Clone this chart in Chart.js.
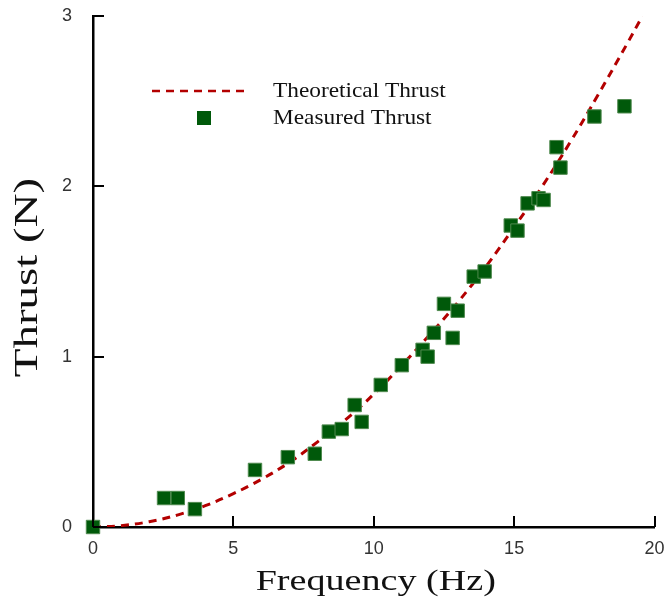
<!DOCTYPE html>
<html>
<head>
<meta charset="utf-8">
<script src="https://cdn.jsdelivr.net/npm/chart.js@4"></script>
<style>
  html, body { margin: 0; padding: 0; background: #fff; }
  #wrap { width: 665px; height: 599px; }
</style>
</head>
<body>
<div id="wrap"><canvas id="thrustChart" width="665" height="599"></canvas></div>
<script>
// measured points (Hz, N)
const measuredFreq = [0, 2.53, 3.02, 3.63, 5.77, 6.94, 7.9, 8.4, 8.86, 9.32, 9.57, 10.25, 11.0, 11.74, 11.92, 12.14, 12.5, 12.81, 12.99, 13.56, 13.95, 14.88, 15.12, 15.48, 15.87, 16.05, 16.51, 16.65, 17.86, 18.93];
const measuredThrust = [0, 0.17, 0.17, 0.105, 0.335, 0.41, 0.43, 0.56, 0.575, 0.716, 0.617, 0.834, 0.95, 1.04, 1.0, 1.14, 1.31, 1.11, 1.27, 1.47, 1.50, 1.77, 1.74, 1.90, 1.93, 1.92, 2.23, 2.11, 2.41, 2.47];

// theoretical curve
const theoryFreq = [0, 1, 2, 3, 4, 5, 6, 7, 8, 9, 10, 11, 12, 13, 14, 15, 16, 17, 18, 19, 19.57];
const theoryThrust = [0, 0.008, 0.031, 0.07, 0.125, 0.196, 0.28, 0.38, 0.5, 0.63, 0.78, 0.95, 1.13, 1.32, 1.53, 1.76, 2.0, 2.26, 2.54, 2.83, 3.0];

const xTicks = [0, 5, 10, 15, 20];
const yTicks = [0, 1, 2, 3];

const lineRed = "#b30000";
const markerGreen = "#00590a";

// the original figure's serif text is stretched along its run
function stretchTitle(scale, sx, sy, dx, dy) {
    if (scale._stretched) return;
    const orig = scale.drawTitle.bind(scale);
    scale.drawTitle = function () {
        const c = this.ctx;
        const cx = (this.left + this.right) / 2, cy = (this.top + this.bottom) / 2;
        c.save();
        c.translate(cx + dx, cy + dy);
        c.scale(sx, sy);
        c.translate(-cx, -cy);
        orig();
        c.restore();
    };
    scale._stretched = true;
}

// inward tick marks + legend drawn on the canvas
const extrasPlugin = {
    id: "extras",
    beforeDraw(chart) {
        stretchTitle(chart.scales.x, 1.27, 1, 2, 3);
        stretchTitle(chart.scales.y, 1, 1.38, 0, 6);
    },
    afterDraw(chart) {
        const ctx = chart.ctx;
        const xs = chart.scales.x, ys = chart.scales.y;
        const area = chart.chartArea;
        ctx.save();
        ctx.strokeStyle = "#000";
        ctx.lineWidth = 2;
        xTicks.forEach(v => {
            const px = Math.round(xs.getPixelForValue(v));
            ctx.beginPath();
            ctx.moveTo(px, area.bottom);
            ctx.lineTo(px, area.bottom - 11);
            ctx.stroke();
        });
        yTicks.forEach(v => {
            const py = Math.round(ys.getPixelForValue(v));
            ctx.beginPath();
            ctx.moveTo(area.left, py);
            ctx.lineTo(area.left + 11, py);
            ctx.stroke();
        });

        // legend
        ctx.strokeStyle = lineRed;
        ctx.lineWidth = 2.5;
        ctx.setLineDash([8, 6]);
        ctx.beginPath();
        ctx.moveTo(152, 91);
        ctx.lineTo(250, 91);
        ctx.stroke();
        ctx.setLineDash([]);
        ctx.fillStyle = markerGreen;
        ctx.fillRect(197, 111, 14, 14);
        ctx.fillStyle = "#111";
        ctx.font = "21px 'Liberation Serif', serif";
        ctx.textBaseline = "middle";
        ctx.translate(273, 0);
        ctx.scale(1.11, 1);
        ctx.fillText("Theoretical Thrust", 0, 91);
        ctx.fillText("Measured Thrust", 0, 118);
        ctx.restore();
    }
};

const ctx = document.getElementById("thrustChart").getContext("2d");

new Chart(ctx, {
    type: "scatter",
    data: {
        datasets: [
            {
                label: "Theoretical Thrust",
                type: "line",
                data: theoryFreq.map((f, i) => ({ x: f, y: theoryThrust[i] })),
                borderColor: lineRed,
                borderWidth: 3,
                borderDash: [8, 6],
                pointRadius: 0,
                tension: 0.4,
                fill: false,
                order: 2
            },
            {
                label: "Measured Thrust",
                data: measuredFreq.map((f, i) => ({ x: f, y: measuredThrust[i] })),
                pointStyle: "rect",
                pointRadius: 9.5,
                backgroundColor: markerGreen,
                borderColor: "#4f8a4f",
                borderWidth: 1,
                clip: false,
                order: 1
            }
        ]
    },
    options: {
        responsive: false,
        animation: false,
        layout: { padding: 0 },
        plugins: {
            legend: { display: false },
            tooltip: { enabled: false }
        },
        scales: {
            x: {
                type: "linear",
                min: 0,
                max: 20,
                afterBuildTicks: s => { s.ticks = xTicks.map(v => ({ value: v })); },
                afterFit: s => { s.height = 72; s.paddingLeft = 0; s.paddingRight = 10; },
                grid: { display: false, drawTicks: false },
                border: { display: true, color: "#000", width: 2.5 },
                ticks: {
                    padding: 11,
                    color: "#333",
                    font: { family: "'Liberation Sans', Arial, sans-serif", size: 18 }
                },
                title: {
                    display: true,
                    text: "Frequency (Hz)",
                    color: "#111",
                    padding: { top: 0, bottom: 2 },
                    font: { family: "'Liberation Serif', serif", size: 30 }
                }
            },
            y: {
                type: "linear",
                min: 0,
                max: 3,
                afterBuildTicks: s => { s.ticks = yTicks.map(v => ({ value: v })); },
                afterFit: s => { s.width = 93; s.paddingTop = 16; s.paddingBottom = 0; },
                grid: { display: false, drawTicks: false },
                border: { display: true, color: "#000", width: 2.5 },
                ticks: {
                    padding: 21,
                    color: "#333",
                    font: { family: "'Liberation Sans', Arial, sans-serif", size: 18 }
                },
                title: {
                    display: true,
                    text: "Thrust (N)",
                    color: "#111",
                    padding: { top: 8, bottom: 0 },
                    font: { family: "'Liberation Serif', serif", size: 34 }
                }
            }
        }
    },
    plugins: [extrasPlugin]
});
</script>
</body>
</html>
